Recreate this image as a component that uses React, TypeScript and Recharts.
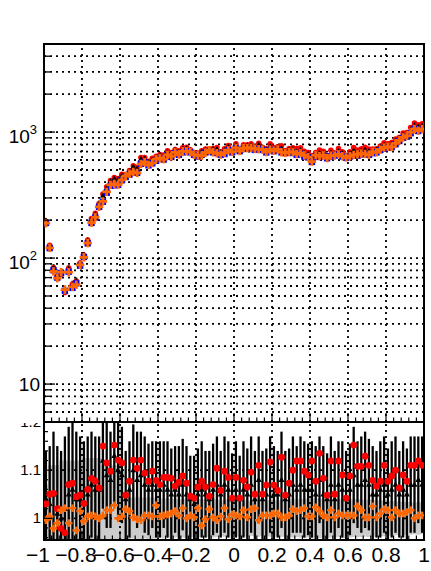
import React from 'react';
import { ComposedChart, Scatter, XAxis, YAxis, ReferenceLine, ReferenceArea, ErrorBar, Area } from 'recharts';

const FONT = '"Liberation Sans", Arial, Helvetica, sans-serif';
const RED = '#ff0000';
const BLUE = '#0000ff';
const ORANGE = '#ff6600';
const GRAY = '#cccccc';

// ---------- binning (100 bins from -1 to 1) ----------
const binEdges: number[] = Array.from({ length: 101 }, (_, i) => +(-1 + i * 0.02).toFixed(2));
const binCenters: number[] = binEdges.slice(0, 100).map((e) => +(e + 0.01).toFixed(2));

// ---------- top panel: reference (blue) histogram counts ----------
const refCounts = [
  190, 120, 80, 70, 76, 55, 78, 58, 63, 87,
  102, 131, 190, 210, 255, 280, 330, 375, 378, 382,
  415, 440, 460, 482, 475, 560, 575, 545, 565, 595,
  620, 605, 655, 635, 680, 660, 690, 705, 690, 660,
  640, 660, 690, 705, 690, 682, 660, 670, 720, 690,
  745, 705, 735, 745, 735, 722, 735, 722, 690, 722,
  705, 722, 690, 682, 690, 682, 660, 670, 640, 630,
  580, 640, 635, 650, 620, 640, 650, 660, 640, 625,
  640, 655, 650, 665, 670, 660, 680, 690, 720, 740,
  750, 760, 800, 850, 900, 920, 980, 1060, 1020, 1050,
];

// ---------- ratio panel values (relative to reference) ----------
const redRatio = [
  1.03, 1.05, 1.052, 1.02, 0.979, 0.97, 1.07, 1.073, 1.045, 1.048,
  1.031, 1.06, 1.083, 1.077, 1.063, 1.15, 1.115, 1.098, 1.152, 1.121,
  1.115, 1.048, 1.077, 1.121, 1.104, 1.121, 1.094, 1.077, 1.098, 1.079,
  1.07, 1.085, 1.085, 1.083, 1.067, 1.075, 1.088, 1.073, 1.046, 1.042,
  1.065, 1.077, 1.065, 1.046, 1.07, 1.104, 1.058, 1.098, 1.085, 1.042,
  1.085, 1.042, 1.079, 1.065, 1.096, 1.05, 1.11, 1.05, 1.069, 1.117,
  1.069, 1.058, 1.127, 1.048, 1.073, 1.1, 1.119, 1.119, 1.098, 1.09,
  1.119, 1.077, 1.135, 1.083, 1.048, 1.119, 1.05, 1.119, 1.09, 1.042,
  1.088, 1.152, 1.108, 1.108, 1.129, 1.11, 1.079, 1.067, 1.077, 1.11,
  1.077, 1.088, 1.1, 1.063, 1.09, 1.077, 1.11, 1.11, 1.119, 1.11,
];

const orangeRatio = [
  0.996, 1.004, 0.979, 0.99, 1.017, 1.021, 0.99, 1.021, 0.975, 1.015,
  0.994, 1.004, 1.006, 1.004, 1.0, 1.006, 1.017, 1.017, 1.027, 1.0,
  1.004, 1.019, 1.015, 1.002, 0.998, 0.996, 1.006, 1.006, 1.004, 1.027,
  1.004, 1.006, 1.008, 1.01, 1.015, 1.006, 1.021, 1.0, 1.006, 1.002,
  1.021, 0.985, 0.998, 1.019, 1.002, 0.996, 1.004, 1.021, 0.998, 1.008,
  1.006, 1.004, 1.017, 1.002, 1.019, 1.021, 0.996, 1.006, 1.006, 1.006,
  1.01, 1.01, 1.002, 1.002, 1.006, 1.019, 1.015, 1.017, 1.021, 1.004,
  1.004, 1.023, 1.015, 1.006, 1.002, 1.017, 1.002, 1.01, 1.006, 1.006,
  1.006, 1.006, 1.025, 1.017, 1.002, 1.002, 1.025, 1.002, 1.01, 1.019,
  1.017, 1.002, 1.017, 1.01, 1.01, 1.013, 1.017, 1.0, 1.006, 1.006,
];

const blackRatio = [
  1.04, 1.03, 1.05, 1.01, 1.0, 1.02, 1.05, 1.06, 1.04, 1.04,
  1.03, 1.05, 1.07, 1.06, 1.06, 1.12, 1.09, 1.08, 1.13, 1.1,
  1.09, 1.04, 1.06, 1.1, 1.08, 1.09, 1.07, 1.06, 1.07, 1.06,
  1.06, 1.07, 1.06, 1.05, 1.06, 1.05, 1.07, 1.05, 1.04, 1.03,
  1.05, 1.06, 1.05, 1.04, 1.06, 1.07, 1.05, 1.07, 1.06, 1.04,
  1.06, 1.04, 1.06, 1.05, 1.07, 1.04, 1.08, 1.04, 1.05, 1.07,
  1.05, 1.05, 1.08, 1.04, 1.05, 1.07, 1.06, 1.07, 1.06, 1.06,
  1.06, 1.05, 1.08, 1.05, 1.04, 1.07, 1.04, 1.07, 1.06, 1.04,
  1.06, 1.09, 1.07, 1.07, 1.08, 1.07, 1.05, 1.05, 1.06, 1.07,
  1.05, 1.06, 1.07, 1.05, 1.06, 1.05, 1.07, 1.07, 1.08, 1.07,
];

const blackErr = [
  0.10, 0.12, 0.13, 0.14, 0.14, 0.15, 0.14, 0.15, 0.14, 0.13,
  0.13, 0.12, 0.11, 0.11, 0.11, 0.10, 0.11, 0.10, 0.10, 0.10,
  0.10, 0.10, 0.10, 0.095, 0.10, 0.09, 0.10, 0.095, 0.09, 0.10,
  0.10, 0.09, 0.10, 0.095, 0.09, 0.10, 0.095, 0.10, 0.09, 0.10,
  0.095, 0.10, 0.09, 0.10, 0.095, 0.10, 0.09, 0.10, 0.10, 0.095,
  0.10, 0.09, 0.10, 0.095, 0.10, 0.10, 0.09, 0.10, 0.095, 0.10,
  0.10, 0.09, 0.10, 0.10, 0.095, 0.10, 0.09, 0.10, 0.10, 0.095,
  0.10, 0.10, 0.09, 0.10, 0.095, 0.10, 0.10, 0.09, 0.10, 0.10,
  0.095, 0.10, 0.09, 0.10, 0.10, 0.095, 0.10, 0.09, 0.10, 0.10,
  0.095, 0.10, 0.10, 0.09, 0.10, 0.095, 0.10, 0.10, 0.09, 0.10,
];

const bandErr = [
  0.07, 0.11, 0.11, 0.11, 0.12, 0.12, 0.12, 0.12, 0.12, 0.12,
  0.125, 0.125, 0.125, 0.125, 0.125, 0.11, 0.11, 0.11, 0.11, 0.11,
  0.10, 0.045, 0.045, 0.042, 0.045, 0.044, 0.042, 0.045, 0.043, 0.042,
  0.04, 0.042, 0.04, 0.041, 0.04, 0.039, 0.04, 0.041, 0.04, 0.038,
  0.04, 0.039, 0.04, 0.038, 0.04, 0.039, 0.037, 0.038, 0.04, 0.038,
  0.037, 0.038, 0.037, 0.038, 0.036, 0.037, 0.038, 0.036, 0.037, 0.038,
  0.038, 0.037, 0.038, 0.039, 0.038, 0.04, 0.039, 0.04, 0.041, 0.04,
  0.042, 0.04, 0.041, 0.04, 0.041, 0.04, 0.04, 0.039, 0.04, 0.041,
  0.04, 0.039, 0.04, 0.039, 0.038, 0.039, 0.038, 0.038, 0.037, 0.037,
  0.036, 0.036, 0.035, 0.035, 0.034, 0.034, 0.034, 0.033, 0.034, 0.033,
];

// ---------- axes ----------
const xMajorTicks = [-1, -0.8, -0.6, -0.4, -0.2, 0, 0.2, 0.4, 0.6, 0.8, 1];
const xTickLabels = ['\u22121', '\u22120.8', '\u22120.6', '\u22120.4', '\u22120.2', '0', '0.2', '0.4', '0.6', '0.8', '1'];
const xGridValues = [-0.8, -0.6, -0.4, -0.2, 0, 0.2, 0.4, 0.6, 0.8];
const xAllTicks = Array.from({ length: 51 }, (_, i) => +(-1 + i * 0.04).toFixed(2));

const yTopDomain = [5, 5000];
const yTopTicks = [6, 7, 8, 9, 10, 20, 30, 40, 50, 60, 70, 80, 90, 100, 200, 300, 400, 500, 600, 700, 800, 900, 1000, 2000, 3000, 4000, 5000];
const yTopMajor = [10, 100, 1000];
const yTopSup = ['', '2', '3'];

const yRatioDomain = [0.955, 1.2];
const yRatioTicks = [0.96, 0.98, 1.0, 1.02, 1.04, 1.06, 1.08, 1.1, 1.12, 1.14, 1.16, 1.18, 1.2];
const yRatioMajor = [1.0, 1.1, 1.2];
const yRatioLabels = ['1', '1.1', '1.2'];
const yRatioGrid = [1.0, 1.1];

// ---------- derived tables ----------
const topRed = binCenters.map((x, i) => ({ x, y: refCounts[i] * redRatio[i] }));
const topBlack = binCenters.map((x, i) => ({ x, y: refCounts[i] * blackRatio[i], err: refCounts[i] * blackRatio[i] * blackErr[i] * 0.5 }));
const topBlue = binCenters.map((x, i) => ({ x, y: refCounts[i] }));
const topOrange = binCenters.map((x, i) => ({ x, y: refCounts[i] * orangeRatio[i] }));

const ratioRed = binCenters.map((x, i) => ({ x, y: redRatio[i] }));
// error bars limited to the visible frame (the frame clips them in the original)
const ratioBlack = binCenters.map((x, i) => ({
  x,
  y: blackRatio[i],
  err: [Math.min(blackErr[i], blackRatio[i] - yRatioDomain[0]), Math.min(blackErr[i], yRatioDomain[1] - blackRatio[i])],
}));
const ratioOrange = binCenters.map((x, i) => ({ x, y: orangeRatio[i] }));
const bandRows = binEdges.map((x, i) => {
  const k = Math.min(i, 99);
  return { x, band: [Math.max(1 - bandErr[k], yRatioDomain[0]), 1 + bandErr[k]] };
});

const near = (a: number, b: number) => Math.abs(a - b) < 1e-6;
const GRID_DASH = '2 4';
const GRID_W = 1.8;

// ---------- markers ----------
const RedDot = (p: any) => <circle cx={p.cx} cy={p.cy} r={3.4} fill={RED} />;
const RedDotSmall = (p: any) => <circle cx={p.cx} cy={p.cy} r={2.8} fill={RED} />;
const BlueSq = (p: any) => <rect x={p.cx - 3.2} y={p.cy - 3.2} width={6.4} height={6.4} fill={BLUE} />;
const BlackTri = (p: any) => (
  <polygon points={`${p.cx},${p.cy - 3.2} ${p.cx - 3},${p.cy + 2.2} ${p.cx + 3},${p.cy + 2.2}`} fill="#000" />
);
const OrangeCross = (p: any) => (
  <g>
    <rect x={p.cx - 3.8} y={p.cy - 1.25} width={7.6} height={2.5} fill={ORANGE} />
    <rect x={p.cx - 1.25} y={p.cy - 3.8} width={2.5} height={7.6} fill={ORANGE} />
  </g>
);
const OrangeCrossBig = (p: any) => (
  <g>
    <rect x={p.cx - 4.2} y={p.cy - 1.4} width={8.4} height={2.8} fill={ORANGE} />
    <rect x={p.cx - 1.4} y={p.cy - 4.2} width={2.8} height={8.4} fill={ORANGE} />
  </g>
);

// ---------- ticks ----------
const XTickTop = (props: any) => {
  const { x, y, payload } = props;
  const major = xMajorTicks.some((m) => near(m, payload.value));
  return <line x1={x} x2={x} y1={y} y2={y - (major ? 9 : 4.5)} stroke="#000" strokeWidth={1.2} />;
};

const XTickBottom = (props: any) => {
  const { x, y, payload } = props;
  const idx = xMajorTicks.findIndex((m) => near(m, payload.value));
  const major = idx >= 0;
  const neg = major && xTickLabels[idx].startsWith('\u2212');
  return (
    <g>
      <line x1={x} x2={x} y1={y} y2={y - (major ? 9 : 4.5)} stroke="#000" strokeWidth={1.2} />
      {major && (
        <text x={x + (neg ? -6 : 0)} y={y + 22} textAnchor="middle" fontSize={21} fontFamily={FONT} fill="#000">
          {xTickLabels[idx]}
        </text>
      )}
    </g>
  );
};

const YTickTop = (props: any) => {
  const { x, y, payload } = props;
  const idx = yTopMajor.findIndex((m) => near(m, payload.value));
  const major = idx >= 0;
  return (
    <g>
      <line x1={x} x2={x + (major ? 11 : 6)} y1={y} y2={y} stroke="#000" strokeWidth={1.3} />
      {major &&
        (yTopSup[idx] ? (
          <text x={x - 7} y={y + 11} textAnchor="end" fontSize={19} fontFamily={FONT} fill="#000">
            <tspan>10</tspan>
            <tspan dy={-9} fontSize={13}>
              {yTopSup[idx]}
            </tspan>
          </text>
        ) : (
          <text x={x - 4} y={y + 7} textAnchor="end" fontSize={19} fontFamily={FONT} fill="#000">
            10
          </text>
        ))}
    </g>
  );
};

const YTickRatio = (props: any) => {
  const { x, y, payload } = props;
  const idx = yRatioMajor.findIndex((m) => near(m, payload.value));
  const major = idx >= 0;
  return (
    <g>
      <line x1={x} x2={x + (major ? 8 : 4)} y1={y} y2={y} stroke="#000" strokeWidth={1.2} />
      {major && (
        <text x={x - 3} y={y + 5} textAnchor="end" fontSize={15} fontFamily={FONT} fill="#000">
          {yRatioLabels[idx]}
        </text>
      )}
    </g>
  );
};

export default function App() {
  return (
    <div style={{ position: 'absolute', left: 0, top: 0, width: 431, height: 571, background: '#fff', fontFamily: FONT }}>
      {/* ratio panel */}
      <div style={{ position: 'absolute', left: 0, top: 422, width: 431, height: 149 }}>
        <ComposedChart width={431} height={149} data={bandRows} margin={{ top: 0, right: 7, bottom: 0, left: 0 }}>
          <XAxis
            type="number"
            dataKey="x"
            domain={[-1, 1]}
            ticks={xAllTicks}
            interval={0}
            allowDataOverflow
            height={31}
            axisLine={false}
            tickLine={false}
            tickSize={0}
            tickMargin={0}
            tick={<XTickBottom />}
          />
          <YAxis
            type="number"
            domain={yRatioDomain}
            ticks={yRatioTicks}
            interval={0}
            allowDataOverflow
            width={44}
            axisLine={false}
            tickLine={false}
            tickSize={0}
            tickMargin={0}
            tick={<YTickRatio />}
          />
          <Area dataKey="band" type="stepAfter" fill={GRAY} fillOpacity={1} stroke="none" isAnimationActive={false} />
          {xGridValues.map((v) => (
            <ReferenceLine key={'vx' + v} x={v} stroke="#000" strokeWidth={GRID_W} strokeDasharray={GRID_DASH} />
          ))}
          {yRatioGrid.map((v) => (
            <ReferenceLine key={'hy' + v} y={v} stroke="#000" strokeWidth={GRID_W} strokeDasharray={GRID_DASH} />
          ))}
          <Scatter data={ratioBlack} dataKey="y" shape={BlackTri} isAnimationActive={false}>
            <ErrorBar dataKey="err" direction="y" width={0} stroke="#000" strokeWidth={2.3} />
          </Scatter>
          <Scatter data={ratioRed} dataKey="y" shape={RedDot} isAnimationActive={false} />
          <Scatter data={ratioOrange} dataKey="y" shape={OrangeCross} isAnimationActive={false} />
          <ReferenceArea x1={-1} x2={1} y1={yRatioDomain[0]} y2={yRatioDomain[1]} fill="none" stroke="#000" strokeWidth={2} ifOverflow="visible" />
        </ComposedChart>
      </div>

      {/* main panel */}
      <div style={{ position: 'absolute', left: 0, top: 0, width: 431, height: 423, background: '#fff' }}>
        <ComposedChart width={431} height={423} data={topBlue} margin={{ top: 44, right: 7, bottom: 0, left: 0 }}>
          <XAxis
            type="number"
            dataKey="x"
            domain={[-1, 1]}
            ticks={xAllTicks}
            interval={0}
            allowDataOverflow
            height={1}
            axisLine={false}
            tickLine={false}
            tickSize={0}
            tickMargin={0}
            tick={<XTickTop />}
          />
          <YAxis
            type="number"
            scale="log"
            domain={yTopDomain}
            ticks={yTopTicks}
            interval={0}
            allowDataOverflow
            width={44}
            axisLine={false}
            tickLine={false}
            tickSize={0}
            tickMargin={0}
            tick={<YTickTop />}
          />
          {xGridValues.map((v) => (
            <ReferenceLine key={'tx' + v} x={v} stroke="#000" strokeWidth={GRID_W} strokeDasharray={GRID_DASH} />
          ))}
          {yTopTicks.map((v) => (
            <ReferenceLine key={'ty' + v} y={v} stroke="#000" strokeWidth={GRID_W} strokeDasharray={GRID_DASH} />
          ))}
          <Scatter data={topRed} dataKey="y" shape={RedDotSmall} isAnimationActive={false} />
          <Scatter data={topBlack} dataKey="y" shape={BlackTri} isAnimationActive={false}>
            <ErrorBar dataKey="err" direction="y" width={0} stroke="#000" strokeWidth={2} />
          </Scatter>
          <Scatter data={topBlue} dataKey="y" shape={BlueSq} isAnimationActive={false} />
          <Scatter data={topOrange} dataKey="y" shape={OrangeCrossBig} isAnimationActive={false} />
          <ReferenceArea x1={-1} x2={1} y1={yTopDomain[0]} y2={yTopDomain[1]} fill="none" stroke="#000" strokeWidth={2} ifOverflow="visible" />
        </ComposedChart>
      </div>
    </div>
  );
}
